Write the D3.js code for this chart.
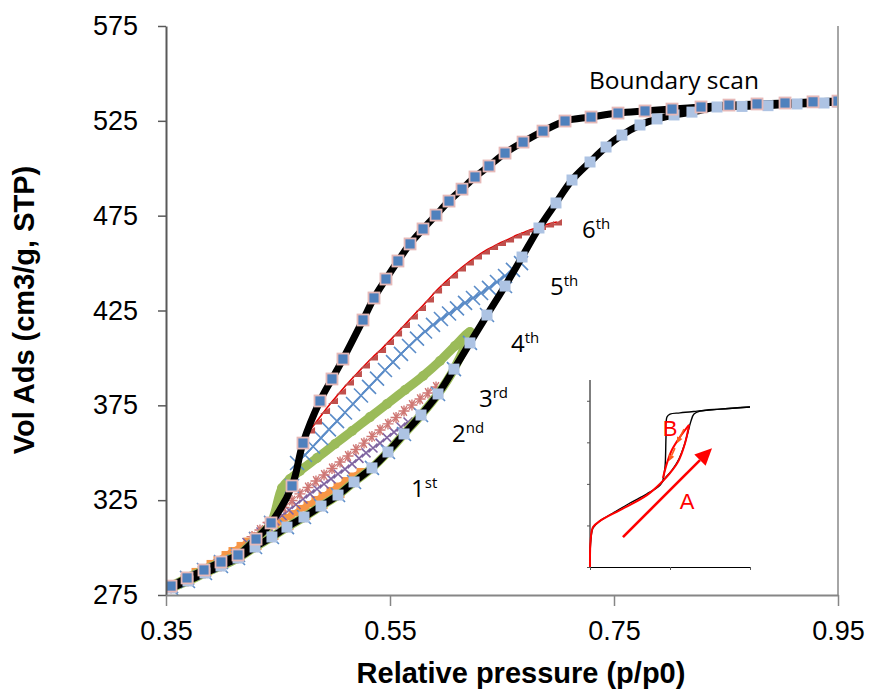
<!DOCTYPE html>
<html><head><meta charset="utf-8">
<script src="https://cdn.jsdelivr.net/npm/d3@7"></script>
<style>body{margin:0;background:#fff}svg{display:block}</style>
</head><body>
<svg id="c" width="870" height="690"></svg>
<script>
// ---------------- DATA ----------------
const xTicks = [0.35, 0.55, 0.75, 0.95];
const yTicks = [275, 325, 375, 425, 475, 525, 575];

// boundary adsorption branch [p/p0, Vol]
const boundaryAdsorption = [[0.3545,278.7],[0.3696,282.4],[0.3848,286.6],[0.3991,290.3],[0.4143,294.5],[0.4295,300.3],[0.4446,305.6],[0.4580,310.8],[0.4732,316.1],[0.4884,321.9],[0.5036,327.7],[0.5179,334.6],[0.5339,342.0],[0.5482,350.4],[0.5625,359.9],[0.5777,369.9],[0.5929,381.0],[0.6071,394.1],[0.6214,407.9],[0.6366,422.6],[0.6527,437.9],[0.6679,453.2],[0.6830,468.5],[0.6982,481.7],[0.7125,493.8],[0.7286,503.3],[0.7429,511.2],[0.7571,517.5],[0.7732,522.8],[0.7884,526.0],[0.8036,528.1],[0.8196,529.6],[0.8420,532.3],[0.8643,532.6],[0.8875,533.0],[0.9134,533.9],[0.9375,534.4],[0.95,534.9]];

// boundary desorption branch
const boundaryDesorption = [[0.95,535.4],[0.9277,535.0],[0.9027,534.4],[0.8777,533.9],[0.8527,533.3],[0.8277,532.3],[0.8018,531.2],[0.7777,530.2],[0.7536,529.1],[0.7295,527.0],[0.7063,524.9],[0.6866,519.6],[0.6688,513.8],[0.6527,508.0],[0.6384,501.2],[0.6259,495.4],[0.6143,489.0],[0.6027,482.7],[0.5911,475.3],[0.5795,468.0],[0.5679,460.1],[0.5571,451.1],[0.5464,441.6],[0.5357,431.6],[0.5259,420.0],[0.5080,399.4],[0.4982,388.9],[0.4875,377.3],[0.4723,355.1],[0.4625,332.5],[0.4438,313.0],[0.4304,304.5],[0.4143,296.1],[0.3991,292.4],[0.3839,288.2],[0.3688,284.0],[0.3545,279.7]];

// desorption legs of the scanning curves (from turning point downwards)
const scan1 = [[0.5259,340.4],[0.5188,338.0],[0.5125,335.6],[0.5054,332.7],[0.4991,330.4],[0.4920,327.7],[0.4857,325.6],[0.4786,323.0],[0.4723,320.9],[0.4652,318.2],[0.4589,316.1],[0.4518,313.5],[0.4455,311.4],[0.4384,308.7],[0.4321,306.6],[0.4250,303.7],[0.4188,301.4],[0.4116,298.7],[0.4054,296.6],[0.3982,294.0],[0.3920,291.9],[0.3848,289.5],[0.3786,287.7]];
const scan2 = [[0.5661,366.2],[0.5598,363.6],[0.5536,360.9],[0.5473,358.0],[0.5411,355.1],[0.5348,352.5],[0.5286,349.9],[0.5223,347.0],[0.5161,344.1],[0.5098,341.4],[0.5036,338.8],[0.4973,336.2],[0.4911,333.5],[0.4848,330.9],[0.4786,328.3],[0.4723,325.6],[0.4661,322.7],[0.4598,319.8],[0.4536,316.9],[0.4473,314.0],[0.4411,311.1],[0.4348,308.2],[0.4286,305.6],[0.4223,302.7]];
const scan3 = [[0.5911,384.7],[0.5839,381.5],[0.5768,378.3],[0.5696,375.2],[0.5625,372.0],[0.5554,368.6],[0.5482,365.2],[0.5411,362.0],[0.5339,358.6],[0.5268,355.1],[0.5196,351.7],[0.5125,348.3],[0.5054,345.1],[0.4982,341.7],[0.4911,338.3],[0.4839,335.1],[0.4768,331.7],[0.4696,328.3],[0.4625,324.8],[0.4554,321.1],[0.4482,317.2],[0.4411,313.2],[0.4339,309.3],[0.4268,305.8]];
const scan4 = [[0.6214,413.7],[0.6080,406.3],[0.5946,398.4],[0.5795,390.5],[0.5634,383.1],[0.5473,375.7],[0.5321,368.8],[0.5161,361.5],[0.5009,354.6],[0.4848,347.2],[0.4696,340.4],[0.4607,336.2],[0.4536,331.4]];
const scan5 = [[0.6670,450.0],[0.6598,446.4],[0.6527,443.2],[0.6455,440.0],[0.6384,436.9],[0.6313,434.2],[0.6241,431.6],[0.6170,429.0],[0.6098,426.1],[0.6027,423.4],[0.5955,420.5],[0.5884,417.4],[0.5813,413.9],[0.5741,410.2],[0.5670,406.3],[0.5598,402.1],[0.5527,397.8],[0.5455,393.6],[0.5384,389.1],[0.5313,384.7],[0.5241,380.2],[0.5170,375.7],[0.5098,371.2],[0.5027,366.7],[0.4955,362.3],[0.4884,357.8],[0.4813,353.3],[0.4741,348.8],[0.4670,344.6]];
const scan6 = [[0.6991,471.7],[0.6920,470.6],[0.6848,469.3],[0.6777,468.0],[0.6705,466.4],[0.6634,464.8],[0.6563,462.7],[0.6491,460.9],[0.6420,458.7],[0.6348,456.4],[0.6277,453.7],[0.6205,450.6],[0.6134,447.4],[0.6063,443.7],[0.5991,439.8],[0.5920,435.8],[0.5848,431.1],[0.5777,426.6],[0.5705,422.1],[0.5634,417.6],[0.5563,413.1],[0.5491,408.7],[0.5420,404.4],[0.5348,400.5],[0.5277,396.3],[0.5205,391.8],[0.5134,387.3],[0.5063,382.6],[0.4991,377.5],[0.4920,372.3],[0.4848,366.7],[0.4786,362.0],[0.4723,356.7]];

const scanNumbers = ["1", "2", "3", "4", "5", "6"];
const scanSuffixes = ["st", "nd", "rd", "th", "th", "th"];
const boundaryLabel = "Boundary scan";

// inset schematic (arbitrary units)
const insetXTicks = [0, 0.5, 1];
const insetYTicks = [0, 1, 2, 3, 4];
const insetBoundaryAds = [[0,0],[0.004,0.58],[0.019,0.94],[0.0625,1.11],[0.144,1.30],[0.25,1.54],[0.356,1.76],[0.4375,1.97],[0.469,2.14],[0.5125,2.33],[0.556,2.60],[0.5875,2.91],[0.6125,3.25],[0.631,3.51],[0.65,3.68],[0.6875,3.75],[0.8125,3.80],[1.0,3.85]];
const insetBoundaryDes = [[1.0,3.85],[0.8125,3.80],[0.669,3.75],[0.5625,3.71],[0.5,3.68],[0.481,3.61],[0.475,3.13],[0.469,2.41],[0.456,2.09]];
const insetScanAds = [[0,0],[0.004,0.65],[0.019,0.96],[0.0625,1.11],[0.1875,1.37],[0.356,1.73],[0.45,2.05],[0.5,2.26],[0.55,2.53],[0.594,2.98],[0.619,3.42]];
const insetScanDes = [[0.619,3.42],[0.5625,3.13],[0.5125,2.82],[0.481,2.50],[0.456,2.14]];
const insetArrowA = [[0.206,0.72],[0.7625,2.86]];
const insetArrowsB = [[[0.5875,3.32],[0.544,2.98]], [[0.531,2.86],[0.494,2.55]]];
const insetLabels = ["A", "B"];

// ---------------- LAYOUT / STYLE ----------------
const svg = d3.select("#c");
const M = {l:166, r:838, t:26, b:595};
const x = d3.scaleLinear().domain([0.35,0.95]).range([M.l, M.r]);
const y = d3.scaleLinear().domain([275,575]).range([M.b, M.t]);
const AX = "Liberation Sans, Arial, sans-serif";
const LBL = "'Open Sans', 'Noto Sans', sans-serif";

svg.append("defs").append("clipPath").attr("id","pc")
  .append("rect").attr("x",M.l).attr("y",M.t-8).attr("width",M.r-M.l).attr("height",M.b-M.t+16);

const line = d3.line().x(d=>x(d[0])).y(d=>y(d[1])).curve(d3.curveCatmullRom.alpha(0.5));
const plot = svg.append("g").attr("clip-path","url(#pc)");

function buildScan(leg){
  const turn = leg[0][0], end = leg[leg.length-1][0];
  return boundaryAdsorption.filter(d=>d[0] < turn-0.008)
    .concat(leg, boundaryDesorption.filter(d=>d[0] < end-0.004));
}

const scanStyles = [
  {data:scan1, line:"#f79646", lw:6, marker:"bar", mc:"#f79646"},
  {data:scan2, line:"#2b2b2b", lw:1, dash:"3,2", marker:"xs", mc:"#8064a2"},
  {data:scan3, line:"#d07f7d", lw:1.2, marker:"ast", mc:"#cf7774"},
  {data:scan4, line:"#9bbb59", lw:9, marker:"circ", mc:"#9bbb59"},
  {data:scan5, line:"#4f81bd", lw:1.6, marker:"xl", mc:"#5b8cc8"},
  {data:scan6, line:"#e00000", lw:1.6, marker:"tri", mc:"#c0504d"}
];

scanStyles.forEach(s=>{
  const pts = buildScan(s.data);
  const g = plot.append("g");
  g.append("path").attr("d", line(pts)).attr("fill","none")
    .attr("stroke", s.line).attr("stroke-width", s.lw)
    .attr("stroke-linejoin","round").attr("stroke-linecap","round")
    .attr("stroke-dasharray", s.dash || null);
  const m = g.selectAll("g.m").data(pts).join("g")
    .attr("transform", d=>`translate(${x(d[0])},${y(d[1])})`);
  if (s.marker==="bar") {
    m.append("rect").attr("x",-6.5).attr("y",-3).attr("width",13).attr("height",6).attr("fill",s.mc);
  } else if (s.marker==="xs") {
    m.append("path").attr("d","M-4.5,-4.5L4.5,4.5M-4.5,4.5L4.5,-4.5").attr("stroke",s.mc).attr("stroke-width",1.6);
  } else if (s.marker==="ast") {
    m.append("path").attr("d","M-5.5,0L5.5,0M-2.8,-4.8L2.8,4.8M-2.8,4.8L2.8,-4.8M0,-5.5L0,5.5").attr("stroke",s.mc).attr("stroke-width",1.4);
  } else if (s.marker==="circ") {
    m.append("circle").attr("r",5).attr("fill",s.mc);
  } else if (s.marker==="xl") {
    m.append("path").attr("d","M-7,-7L7,7M-7,7L7,-7").attr("stroke",s.mc).attr("stroke-width",1.6);
  } else if (s.marker==="tri") {
    m.append("path").attr("d","M-5,3.5L5,3.5L5,-3Z").attr("fill",s.mc);
  }
});

// boundary curves
[boundaryAdsorption, boundaryDesorption].forEach(d=>{
  plot.append("path").attr("d", line(d)).attr("fill","none")
    .attr("stroke","#000").attr("stroke-width",7).attr("stroke-linejoin","round");
});
plot.append("g").selectAll("rect").data(boundaryAdsorption).join("rect")
  .attr("x",d=>x(d[0])-5.5).attr("y",d=>y(d[1])-5.5).attr("width",11).attr("height",11)
  .attr("fill","#adc3e3");
plot.append("g").selectAll("rect").data(boundaryDesorption).join("rect")
  .attr("x",d=>x(d[0])-5.5).attr("y",d=>y(d[1])-5.5).attr("width",11).attr("height",11)
  .attr("fill","#4f81bd").attr("stroke","#e6b9b8").attr("stroke-width",1.8);

// axes
svg.append("line").attr("x1",M.r).attr("x2",M.r).attr("y1",M.t).attr("y2",M.b)
  .attr("stroke","#a6a6a6").attr("stroke-width",2);

const gy = svg.append("g").attr("transform",`translate(${M.l},0)`)
  .call(d3.axisLeft(y).tickValues(yTicks).tickSize(8).tickSizeOuter(0).tickPadding(20).tickFormat(d3.format("d")));
gy.attr("font-size",27).attr("font-family",AX);
gy.select(".domain").attr("stroke","#595959").attr("stroke-width",2);
gy.selectAll(".tick line").attr("stroke","#595959").attr("stroke-width",1.5);
gy.selectAll(".tick text").attr("fill","#000");

const gx = svg.append("g").attr("transform",`translate(0,${M.b})`)
  .call(d3.axisBottom(x).tickValues(xTicks).tickSize(11).tickSizeOuter(0).tickPadding(15).tickFormat(d3.format(".2f")));
gx.attr("font-size",27).attr("font-family",AX);
gx.select(".domain").attr("stroke","#868686").attr("stroke-width",2);
gx.selectAll(".tick line").attr("stroke","#868686").attr("stroke-width",1.5);
gx.selectAll(".tick text").attr("fill","#000");

// axis titles
svg.append("text").attr("x",521).attr("y",683).attr("text-anchor","middle")
  .attr("font-family",AX).attr("font-weight","bold").attr("font-size",29).text("Relative pressure (p/p0)");
svg.append("text").attr("transform","translate(34,310) rotate(-90)").attr("text-anchor","middle")
  .attr("font-family",AX).attr("font-weight","bold").attr("font-size",29).text("Vol Ads (cm3/g, STP)");

// labels
svg.append("text").attr("x",589).attr("y",89).attr("font-family",LBL).attr("font-size",24.5)
  .attr("fill","#000").text(boundaryLabel);
const labelPos = [[411,497],[452,442],[479,407],[511,352],[550,295],[582,238]];
scanNumbers.forEach((n,i)=>{
  const t = svg.append("text").attr("x",labelPos[i][0]).attr("y",labelPos[i][1])
    .attr("font-family",LBL).attr("font-size",24).attr("fill","#000");
  t.append("tspan").text(n);
  t.append("tspan").attr("font-size",15).attr("dy",-9).text(scanSuffixes[i]);
});

// ---------------- INSET ----------------
const ix = d3.scaleLinear().domain([0,1]).range([590,750]);
const iy = d3.scaleLinear().domain([0,4.5]).range([567,380]);
const il = d3.line().x(d=>ix(d[0])).y(d=>iy(d[1])).curve(d3.curveCatmullRom.alpha(0.5));
const ins = svg.append("g");
const iax = ins.append("g").attr("transform","translate(0,567)")
  .call(d3.axisBottom(ix).tickValues(insetXTicks).tickSize(3).tickSizeOuter(0).tickFormat(""));
const iay = ins.append("g").attr("transform","translate(590,0)")
  .call(d3.axisLeft(iy).tickValues(insetYTicks).tickSize(3).tickSizeOuter(0).tickFormat(""));
[iax, iay].forEach(g=>{ g.select(".domain").attr("stroke","#000").attr("stroke-width",1);
  g.selectAll(".tick line").attr("stroke","#555"); });
iay.select(".domain").attr("d","M0,567V380");

[insetBoundaryAds, insetBoundaryDes].forEach(d=>{
  ins.append("path").attr("d",il(d)).attr("fill","none").attr("stroke","#000").attr("stroke-width",1.4);
});
[insetScanAds, insetScanDes].forEach(d=>{
  ins.append("path").attr("d",il(d)).attr("fill","none").attr("stroke","#ff0000").attr("stroke-width",2);
});

function arrow(p, color, w, hl, hw){
  const x0=ix(p[0][0]), y0=iy(p[0][1]), x1=ix(p[1][0]), y1=iy(p[1][1]);
  const a = Math.atan2(y1-y0, x1-x0);
  const bx = x1 - hl*Math.cos(a), by = y1 - hl*Math.sin(a);
  ins.append("line").attr("x1",x0).attr("y1",y0).attr("x2",bx).attr("y2",by)
    .attr("stroke",color).attr("stroke-width",w);
  const nx = -Math.sin(a)*hw/2, ny = Math.cos(a)*hw/2;
  ins.append("path").attr("d",`M${x1},${y1}L${bx+nx},${by+ny}L${bx-nx},${by-ny}Z`).attr("fill",color);
}
arrow(insetArrowA, "#ff0000", 2.6, 17, 16);
insetArrowsB.forEach(p=>arrow(p, "#ff5a1a", 1.6, 6, 6));

ins.append("text").attr("x",687).attr("y",509).attr("text-anchor","middle")
  .attr("font-family","'Liberation Sans Narrow', 'Liberation Sans', sans-serif").attr("font-size",22)
  .attr("fill","#ff0000").text(insetLabels[0]);
ins.append("text").attr("x",670).attr("y",436).attr("text-anchor","middle")
  .attr("font-family","'Liberation Sans Narrow', 'Liberation Sans', sans-serif").attr("font-size",22)
  .attr("fill","#ff0000").text(insetLabels[1]);
</script>
</body></html>
